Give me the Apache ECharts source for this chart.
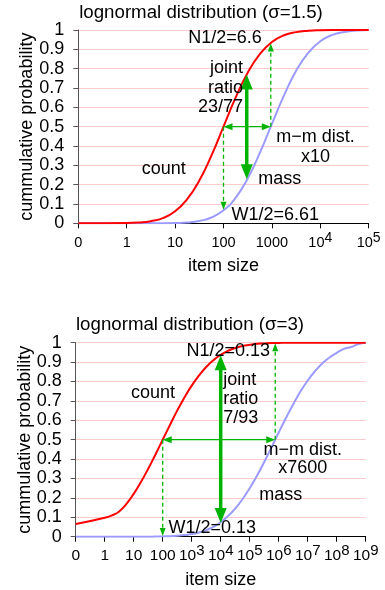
<!DOCTYPE html>
<html><head><meta charset="utf-8">
<script src="https://cdn.jsdelivr.net/npm/echarts@6/dist/echarts.min.js"></script>
<style>html,body{margin:0;padding:0;background:#fff}#c{width:385px;height:590px}</style>
</head><body><div id="c"></div>
<script>
// ---------- data (x values are log10 of item size; -1 is the "0" tick) ----------
const topX = [-1,-0.5,0,0.25,0.5,0.75,1,1.25,1.5,1.75,2,2.25,2.5,2.75,3,3.25,3.5,3.75,4,4.25,4.5,4.75,5];
const topCount = [0,0.0001,0.001,0.004,0.011,0.027,0.062,0.125,0.221,0.350,0.500,0.650,0.779,0.875,0.938,0.973,0.989,0.996,0.999,1,1,1,1];
const topMass = [0,0,0,0,0,0.0003,0.0012,0.004,0.012,0.030,0.067,0.132,0.232,0.364,0.514,0.662,0.789,0.882,0.942,0.975,0.990,0.997,1];
const topTickLabels = ['0','1','10','100','1000','10^4','10^5'];

const botX = [-1,0,0.25,0.5,0.75,1,1.25,1.5,1.75,2,2.25,2.5,2.75,3,3.25,3.5,3.75,4,4.25,4.5,4.75,5,5.25,5.5,5.75,6,6.25,6.5,6.75,7,7.25,7.5,7.75,8,8.25,8.5,8.75,9];
const botCount = [0.065,0.098,0.11,0.13,0.169,0.221,0.282,0.350,0.424,0.5,0.576,0.650,0.718,0.779,0.831,0.875,0.910,0.938,0.958,0.973,0.983,0.989,0.994,0.996,0.998,0.999,1,1,1,1,1,1,1,1,1,1,1,1];
const botMass = [0,0,0,0,0,0,0,0,0.0008,0.0015,0.0027,0.0047,0.0082,0.0135,0.022,0.034,0.051,0.0745,0.106,0.145,0.193,0.250,0.314,0.385,0.460,0.537,0.612,0.683,0.748,0.805,0.853,0.893,0.924,0.948,0.968,0.978,0.993,1.0];
const botTickLabels = ['0','1','10','100','10^3','10^4','10^5','10^6','10^7','10^8','10^9'];

// annotation values (x in log10 units, y in probability)
const topMedCount = 2, topMedMass = 2.977, topJointX = 2.48, topJointLow = 0.228, topJointHigh = 0.77, topNTip = 0.93, topWTip = 0.07;
const botMedCount = 2, botMedMass = 5.88, botJointX = 4, botJointLow = 0.07, botJointHigh = 0.935, botNTip = 0.997, botWTip = 0.004;

// ---------- chart ----------
const FONT = '"Liberation Sans", Arial, sans-serif';
const GREEN = '#00b300';
const RED = '#ff0000';
const BLUE = '#9b9bff';
const GRIDC = '#ffcccc';

const ARROW = {
  thick: {lw: 3.5, hl: 15, hw: 12, dash: null},
  thin: {lw: 1.3, hl: 9, hw: 7, dash: null},
  dashed: {lw: 1.3, hl: 8, hw: 6, dash: [4, 3]}
};

function arrowSeries(g, list) {
  return {
    type: 'custom', xAxisIndex: g, yAxisIndex: g, z: 10, silent: true,
    data: list.map(a => [a[0], a[1], a[2], a[3]]),
    renderItem(params, api) {
      const a = list[params.dataIndex];
      const st = ARROW[a[4]];
      const both = a[5] === 'both';
      const p1 = api.coord([api.value(0), api.value(1)]);
      const p2 = api.coord([api.value(2), api.value(3)]);
      const dx = p2[0] - p1[0], dy = p2[1] - p1[1], len = Math.hypot(dx, dy);
      const ux = dx / len, uy = dy / len, nx = -uy, ny = ux;
      const k = st.hl * 0.7;
      const s = both ? [p1[0] + ux * k, p1[1] + uy * k] : p1;
      const e = [p2[0] - ux * k, p2[1] - uy * k];
      const head = (tip, vx, vy) => ({
        type: 'polygon',
        shape: {points: [tip,
          [tip[0] - vx * st.hl + nx * st.hw / 2, tip[1] - vy * st.hl + ny * st.hw / 2],
          [tip[0] - vx * st.hl - nx * st.hw / 2, tip[1] - vy * st.hl - ny * st.hw / 2]]},
        style: {fill: GREEN}
      });
      const children = [{type: 'line', shape: {x1: s[0], y1: s[1], x2: e[0], y2: e[1]},
        style: {stroke: GREEN, lineWidth: st.lw, lineDash: st.dash}}];
      children.push(head(p2, ux, uy));
      if (both) children.push(head(p1, -ux, -uy));
      return {type: 'group', children};
    }
  };
}

const topArrows = [
  [topMedCount, 0.5, topMedMass, 0.5, 'thin', 'both'],
  [topJointX, topJointLow, topJointX, topJointHigh, 'thick', 'both'],
  [topMedMass, 0.5, topMedMass, topNTip, 'dashed', 'end'],
  [topMedCount, 0.5, topMedCount, topWTip, 'dashed', 'end']
];
const botArrows = [
  [botMedCount, 0.5, botMedMass, 0.5, 'thin', 'both'],
  [botJointX, botJointLow, botJointX, botJointHigh, 'thick', 'both'],
  [botMedMass, 0.5, botMedMass, botNTip, 'dashed', 'end'],
  [botMedCount, 0.5, botMedCount, botWTip, 'dashed', 'end']
];

function xAxis(g, min, max, labels, fs) {
  return {
    gridIndex: g, type: 'value', min, max, interval: 1,
    axisLine: {show: true, onZero: false, lineStyle: {color: '#000', width: 1}},
    axisTick: {show: true, length: 5, lineStyle: {color: '#000'}},
    splitLine: {show: false},
    axisLabel: {
      margin: 7, color: '#000',
      formatter: v => {
        const s = labels[Math.round(v - min)];
        if (s === undefined) return '';
        if (s.indexOf('^') >= 0) { const p = s.split('^'); return '{b|' + p[0] + '}{s|' + p[1] + '}'; }
        return '{b|' + s + '}';
      },
      rich: {
        b: {fontSize: fs, fontFamily: FONT, color: '#000', lineHeight: 20, padding: [5, 0, 0, 0]},
        s: {fontSize: fs - 0.5, fontFamily: FONT, color: '#000', lineHeight: 20, padding: [0, 0, 5, 0]}
      }
    },
    name: 'item size', nameLocation: 'middle', nameGap: 34, nameMoveOverlap: false,
    nameTextStyle: {fontSize: 18, fontFamily: FONT, color: '#000'}
  };
}
function yAxis(g) {
  return {
    gridIndex: g, type: 'value', min: 0, max: 1, interval: 0.1,
    axisLine: {show: true, onZero: false, lineStyle: {color: '#555', width: 1}},
    axisTick: {show: true, length: 5, lineStyle: {color: '#555'}},
    splitLine: {show: true, lineStyle: {color: GRIDC, width: 1}},
    axisLabel: {margin: 14, fontSize: 18, fontFamily: FONT, color: '#000',
      formatter: v => String(+v.toFixed(1))},
    name: 'cummulative probability', nameLocation: 'middle', nameGap: 42, nameMoveOverlap: false,
    nameTextStyle: {fontSize: 18, fontFamily: FONT, color: '#000'}
  };
}
function curve(g, xs, ys, color, z) {
  return {
    type: 'line', xAxisIndex: g, yAxisIndex: g, showSymbol: false, symbol: 'none',
    smooth: 0.5, z,
    data: xs.map((x, i) => [x, ys[i]]),
    lineStyle: {color, width: 2}, itemStyle: {color}, silent: true
  };
}
function txt(x, y, text, align, lh, size) {
  return {type: 'text', x, y, silent: true, z: 20,
    style: {text, fill: '#000', font: (size || 18) + 'px ' + FONT, textAlign: align || 'center',
      textVerticalAlign: lh ? 'top' : 'middle', lineHeight: lh || 20}};
}

const chart = echarts.init(document.getElementById('c'), null, {renderer: 'canvas'});
chart.setOption({
  animation: false,
  backgroundColor: '#fff',
  grid: [
    {left: 78.3, top: 30, width: 290.4, height: 193.3, containLabel: false},
    {left: 75.7, top: 342.7, width: 290, height: 194, containLabel: false}
  ],
  xAxis: [xAxis(0, -1, 5, topTickLabels, 14.5), xAxis(1, -1, 9, botTickLabels, 15.5)],
  yAxis: [yAxis(0), yAxis(1)],
  series: [
    curve(0, topX, topMass, BLUE, 2), curve(0, topX, topCount, RED, 3),
    curve(1, botX, botMass, BLUE, 2), curve(1, botX, botCount, RED, 3),
    arrowSeries(0, topArrows), arrowSeries(1, botArrows)
  ],
  graphic: [
    txt(201, 13, 'lognormal distribution (σ=1.5)', 'center', 0, 18.7),
    txt(190, 325, 'lognormal distribution (σ=3)', 'center', 0, 18.7),
    txt(225, 38.3, 'N1/2=6.6'),
    txt(243, 58.3, 'joint\nratio\n23/77', 'right', 19.5),
    txt(315.5, 126.7, 'm\u2212m dist.\nx10', 'center', 20),
    txt(163.8, 169.3, 'count'),
    txt(279.7, 179, 'mass'),
    txt(275.2, 215, 'W1/2=6.61'),
    txt(228.3, 351, 'N1/2=0.13'),
    txt(223.3, 370.3, 'joint\nratio\n7/93', 'left', 19.2),
    txt(153, 393.3, 'count'),
    txt(302.8, 440.7, 'm\u2212m dist.\nx7600', 'center', 18.5),
    txt(280.7, 495, 'mass'),
    txt(212.2, 528.3, 'W1/2=0.13')
  ]
});
</script>
</body></html>
